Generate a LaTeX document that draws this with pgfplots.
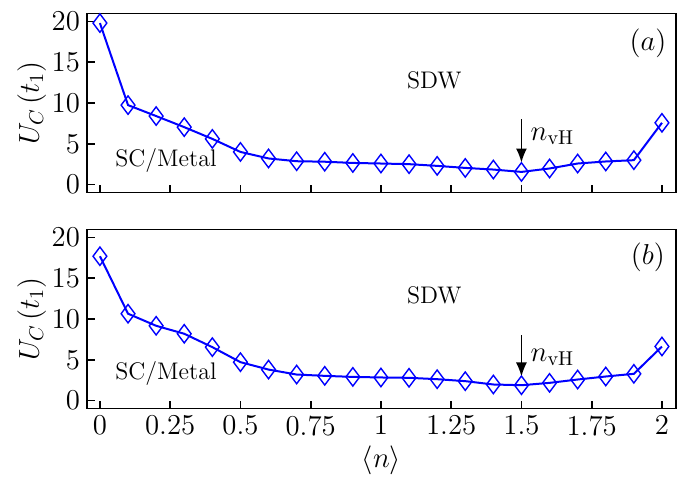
\documentclass[border=0pt]{standalone}
\usepackage{pgfplots}
\pgfplotsset{compat=1.18}
\usetikzlibrary{arrows.meta}
\begin{document}
\begin{tikzpicture}
\pgfplotsset{
  myax/.style={
    scale only axis, width=294.5pt, height=89.7pt,
    xmin=-0.046, xmax=2.05, ymin=-1, ymax=21,
    xtick={0,0.25,0.5,0.75,1,1.25,1.5,1.75,2},
    xticklabels={0,0.25,0.5,0.75,1,1.25,1.5,1.75,2},
    ytick={0,5,10,15,20},
    tick pos=left, tick align=inside,
    major tick length=3.8pt,
    every tick/.style={black, line width=0.9pt},
    axis line style={line width=0.7pt},
    tick label style={font=\Large},
    label style={font=\Large},
    ylabel={$U_C\,(t_1)$},
    ylabel shift=-4pt,
    clip=false,
  },
  myplot/.style={blue, line width=1pt, mark=diamond, mark size=4.6pt, mark options={solid, line width=0.7pt, fill=none}},
}
\path (0,0) rectangle (341.5pt,-239.5pt);
\begin{axis}[myax, at={(43.5pt,-6.65pt)}, anchor=north west, xticklabels={}]
\addplot[myplot] coordinates {
(0,19.8) (0.1,9.74) (0.2,8.4) (0.3,7.04) (0.4,5.6) (0.5,4.0) (0.6,3.2) (0.7,2.86) (0.8,2.8) (0.9,2.65) (1.0,2.58)
(1.1,2.5) (1.2,2.29) (1.3,2.04) (1.4,1.84) (1.5,1.55) (1.6,1.97) (1.7,2.58) (1.8,2.83) (1.9,2.99) (2.0,7.57)};
\draw[-{Latex[length=7pt,width=5.5pt]}, line width=0.7pt] (axis cs:1.5,8.0) -- (axis cs:1.5,2.7);
\node[font=\Large] at (axis cs:1.61,5.9) {$n_{\mathrm{vH}}$};
\node[font=\large] at (axis cs:1.19,12.8) {SDW};
\node[font=\large] at (axis cs:0.235,3.0) {SC/Metal};
\node[font=\Large] at (axis cs:1.95,17.3) {$(a)$};
\end{axis}
\begin{axis}[myax, at={(43.5pt,-114.65pt)}, anchor=north west, xlabel={$\langle n\rangle$}, xlabel shift=-2pt]
\addplot[myplot] coordinates {
(0,17.7) (0.1,10.65) (0.2,9.17) (0.3,8.19) (0.4,6.55) (0.5,4.71) (0.6,3.8) (0.7,3.19) (0.8,3.03) (0.9,2.9) (1.0,2.83)
(1.1,2.79) (1.2,2.62) (1.3,2.38) (1.4,1.97) (1.5,1.88) (1.6,2.17) (1.7,2.58) (1.8,2.95) (1.9,3.28) (2.0,6.63)};
\draw[-{Latex[length=7pt,width=5.5pt]}, line width=0.7pt] (axis cs:1.5,8.0) -- (axis cs:1.5,2.95);
\node[font=\Large] at (axis cs:1.61,5.3) {$n_{\mathrm{vH}}$};
\node[font=\large] at (axis cs:1.19,12.9) {SDW};
\node[font=\large] at (axis cs:0.235,3.3) {SC/Metal};
\node[font=\Large] at (axis cs:1.95,17.6) {$(b)$};
\end{axis}
\end{tikzpicture}
\end{document}
